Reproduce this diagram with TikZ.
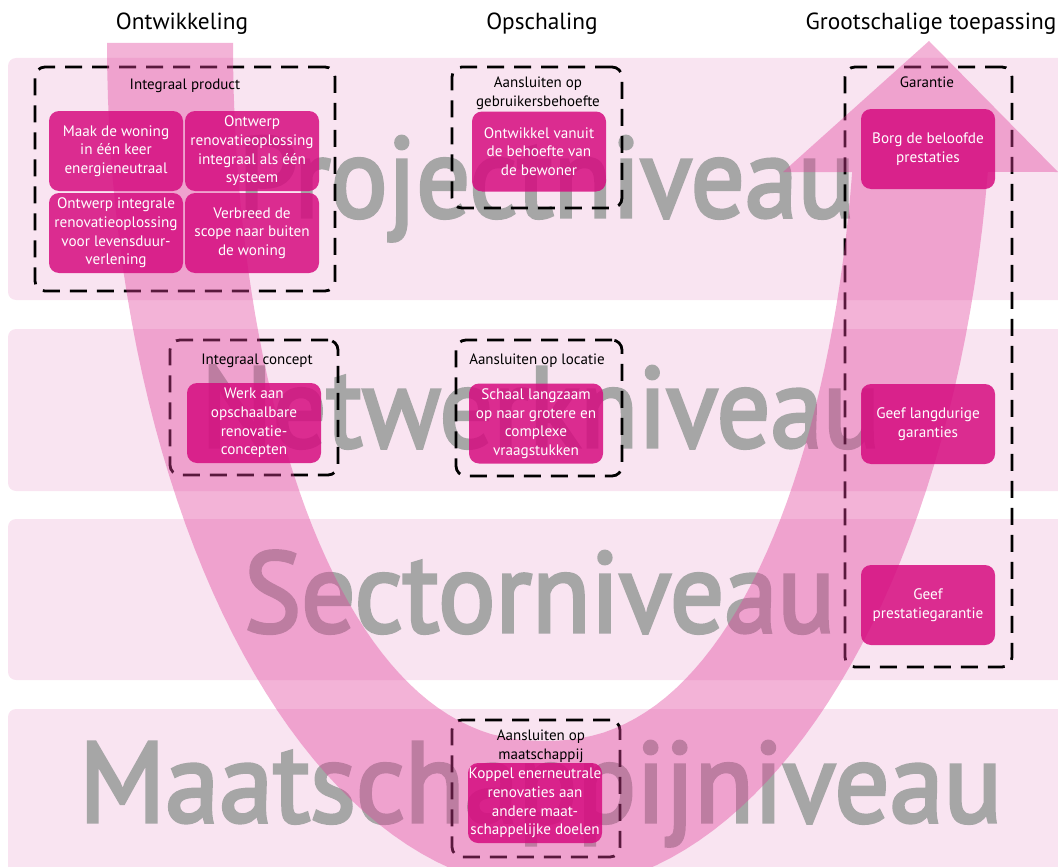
\documentclass[tikz,border=0pt]{standalone}
\usepackage{fontspec}
\setmainfont{PT Sans}
\newfontfamily\wordfamily[FakeBold=3]{PT Sans}
\usepackage{graphicx}
\definecolor{band}{RGB}{249,228,241}
\definecolor{wordgray}{RGB}{166,166,166}
\definecolor{arrowpink}{RGB}{224,64,154}
\definecolor{boxmag}{RGB}{214,12,128}
\newcommand\bigfont{\wordfamily\fontsize{114}{114}\selectfont}
\newsavebox\wordbox
\newcommand\fitword[2]{\sbox\wordbox{\bigfont #2}\pgfmathsetmacro\wordsx{#1/\the\wd\wordbox}\scalebox{\wordsx}[1]{\usebox\wordbox}}
\tikzset{
  bandrect/.style={fill=band, rounded corners=8pt},
  bigword/.style={anchor=base west, inner sep=0pt, text=wordgray},
  groupbox/.style={draw=black, line width=2.8pt, dash pattern=on 17pt off 10pt, rounded corners=10pt, inner sep=0pt},
  actbox/.style={fill=boxmag, fill opacity=0.85, text opacity=1, text=white, rounded corners=10pt, align=center,
    font=\fontsize{15.2}{18.6}\selectfont, inner sep=0pt, minimum width=134pt, minimum height=80pt},
  grouplabel/.style={font=\fontsize{15}{18.6}\selectfont, align=center, inner sep=0pt},
  titletext/.style={font=\fontsize{23.3}{27}\selectfont, inner sep=0pt, anchor=base},
}
\begin{document}
\begin{tikzpicture}[x=1pt,y=-1pt]
\useasboundingbox (0,0) rectangle (1058,867);
\clip (0,0) rectangle (1058,867);
% bands
\fill[bandrect] (8,58) rectangle (1080,300);
\fill[bandrect] (8,329) rectangle (1080,491);
\fill[bandrect] (8,519) rectangle (1080,680);
\fill[bandrect] (8,709) rectangle (1080,890);
% big level words
\node[bigword] (w1) at (238,217) {\fitword{617}{Projectniveau}};
\node[bigword] (w2) at (201,447) {\fitword{679}{Netwerkniveau}};
\node[bigword] (w3) at (244,632) {\fitword{591}{Sectorniveau}};
\node[bigword] (w4) at (79,822) {\fitword{923}{Maatschappijniveau}};
% dashed group boxes
\node[groupbox, minimum width=300pt, minimum height=224pt] (g1) at (185,179) {};
\node[groupbox, minimum width=170pt, minimum height=141pt] (g2) at (537,137.5) {};
\node[groupbox, minimum width=167pt, minimum height=600pt] (g3) at (928.5,367) {};
\node[groupbox, minimum width=168pt, minimum height=135pt] (g4) at (254,407.5) {};
\node[groupbox, minimum width=166pt, minimum height=136pt] (g5) at (539,408) {};
\node[groupbox, minimum width=168pt, minimum height=137pt] (g6) at (536,788.5) {};
% U-shaped arrow
\fill[arrowpink, fill opacity=0.4]
  plot[domain=180:8.76, samples=90] ({550+443*cos(\x)},{43+847*sin(\x)})
  -- (1058,172) -- (929,41) -- (783,172) -- (851.6,172)
  -- plot[domain=10.65:180, samples=90]
     ({545+312*(cos(\x)>=0 ? 1 : -1)*(abs(cos(\x))+0.00001)^0.9},{43+698*sin(\x)})
  -- cycle;
% titles
\node[titletext] (t1) at (182,30) {Ontwikkeling};
\node[titletext] (t2) at (542,30) {Opschaling};
\node[titletext] (t3) at (931,30) {Grootschalige toepassing};
% group labels
\node[grouplabel, anchor=base] (l1) at (185,89) {Integraal product};
\node[grouplabel] (l2) at (538,93) {Aansluiten op\\gebruikersbehoefte};
\node[grouplabel, anchor=base] (l3) at (927,88) {Garantie};
\node[grouplabel, anchor=base] (l4) at (257,364) {Integraal concept};
\node[grouplabel, anchor=base] (l5) at (537,364) {Aansluiten op locatie};
\node[grouplabel] (l6) at (541,746) {Aansluiten op\\maatschappij};
% action boxes
\node[actbox] (b1) at (116,151) {Maak de woning\\in één keer\\energieneutraal};
\node[actbox] (b2) at (252,151) {Ontwerp\\renovatieoplossing\\integraal als één\\systeem};
\node[actbox] (b3) at (116,233) {Ontwerp integrale\\renovatieoplossing\\voor levensduur-\\verlening};
\node[actbox] (b4) at (252,233) {Verbreed de\\scope naar buiten\\de woning};
\node[actbox] (b5) at (539,151.5) {Ontwikkel vanuit\\de behoefte van\\de bewoner};
\node[actbox] (b6) at (928,149) {Borg de beloofde\\prestaties};
\node[actbox] (b7) at (254,423) {Werk aan\\opschaalbare\\renovatie-\\concepten};
\node[actbox] (b8) at (536,423.5) {Schaal langzaam\\op naar grotere en\\complexe\\vraagstukken};
\node[actbox] (b9) at (928,424) {Geef langdurige\\garanties};
\node[actbox] (b10) at (928,605) {Geef\\prestatiegarantie};
\node[actbox] (b11) at (535,803) {Koppel enerneutrale\\renovaties aan\\andere maat-\\schappelijke doelen};
\end{tikzpicture}
\end{document}
